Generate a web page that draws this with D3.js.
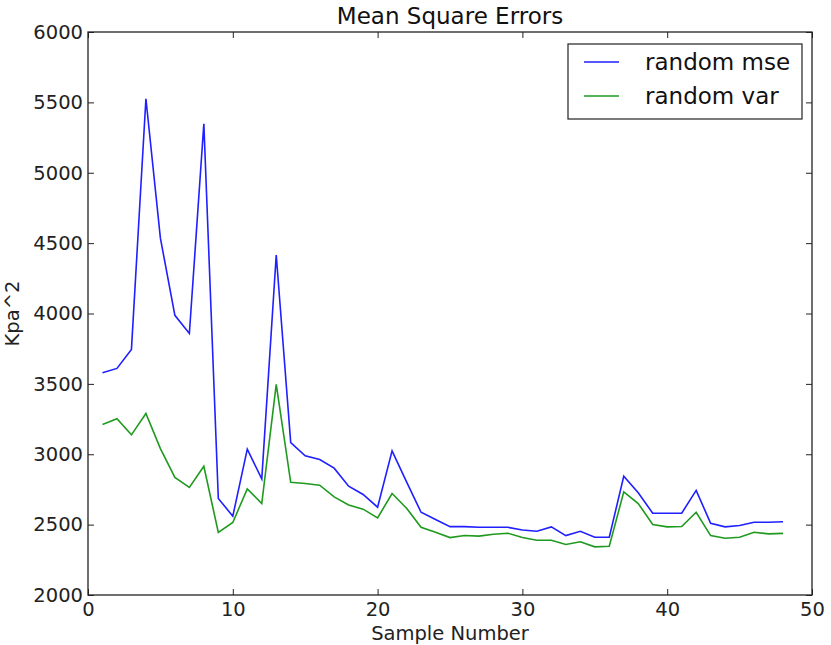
<!DOCTYPE html>
<html><head><meta charset="utf-8">
<script src="https://cdn.jsdelivr.net/npm/d3@7/dist/d3.min.js"></script>
<style>body{margin:0;background:#fff}</style>
</head><body>
<script>
const samples = d3.range(1, 49);
const mseValues = [3579,3610,3745,5526,4535,3987,3858,5348,2686,2560,3036,2825,4416,3083,2989,2963,2901,2773,2714,2624,3024,2804,2588,2536,2486,2486,2481,2481,2481,2462,2453,2484,2422,2453,2410,2410,2844,2726,2581,2581,2581,2743,2510,2484,2494,2517,2517,2520];
const varValues = [3212,3252,3138,3290,3040,2835,2764,2915,2444,2515,2754,2650,3497,2801,2792,2780,2697,2640,2610,2548,2721,2617,2481,2446,2408,2423,2418,2432,2439,2408,2389,2389,2359,2378,2342,2346,2733,2650,2501,2484,2487,2588,2422,2403,2410,2446,2434,2438];
const xTicks = [0,10,20,30,40,50];
const yTicks = [2000,2500,3000,3500,4000,4500,5000,5500,6000];
const seriesNames = ["random mse","random var"];
const colors = ["#1f1fff","#1f9a1f"];

const W = 831, H = 645;
const m = {l:88, r:19, t:32, b:50};
const svg = d3.select("body").append("svg").attr("width",W).attr("height",H)
  .style("font-family","'DejaVu Sans', sans-serif");
const x = d3.scaleLinear().domain([0,50]).range([m.l, W-m.r]);
const y = d3.scaleLinear().domain([2000,6000]).range([H-m.b, m.t]);
const fs = 19.5;

// lines
const line = d3.line().x((d,i)=>x(samples[i])).y(d=>y(d));
[mseValues, varValues].forEach((vals,k)=>{
  svg.append("path").datum(vals).attr("d",line).attr("fill","none")
    .attr("stroke",colors[k]).attr("stroke-width",1.6).attr("stroke-linejoin","miter");
});

// frame
svg.append("rect").attr("x",x(0)).attr("y",y(6000)).attr("width",x(50)-x(0)).attr("height",y(2000)-y(6000))
  .attr("fill","none").attr("stroke","#222").attr("stroke-width",1.3);

// axes with inward ticks
const gx = svg.append("g").attr("transform",`translate(0,${y(2000)})`)
  .call(d3.axisBottom(x).tickValues(xTicks).tickSize(-6).tickPadding(7).tickFormat(d3.format("d")));
const gxt = svg.append("g").attr("transform",`translate(0,${y(6000)})`)
  .call(d3.axisTop(x).tickValues(xTicks).tickSize(-6).tickFormat(""));
const gy = svg.append("g").attr("transform",`translate(${x(0)},0)`)
  .call(d3.axisLeft(y).tickValues(yTicks).tickSize(-6).tickPadding(5).tickFormat(d3.format("d")));
const gyr = svg.append("g").attr("transform",`translate(${x(50)},0)`)
  .call(d3.axisRight(y).tickValues(yTicks).tickSize(-6).tickFormat(""));
[gx,gxt,gy,gyr].forEach(g=>{
  g.select(".domain").remove();
  g.selectAll("line").attr("stroke","#222").attr("stroke-width",1);
  g.selectAll("text").attr("fill","#222").style("font-size",fs+"px").style("font-family","'DejaVu Sans', sans-serif");
});

// titles
svg.append("text").attr("x",(x(0)+x(50))/2).attr("y",24).attr("text-anchor","middle")
  .style("font-size","23px").attr("fill","#111").text("Mean Square Errors");
svg.append("text").attr("x",(x(0)+x(50))/2).attr("y",640).attr("text-anchor","middle")
  .style("font-size",fs+"px").attr("fill","#222").text("Sample Number");
svg.append("text").attr("transform",`translate(19,${(y(2000)+y(6000))/2}) rotate(-90)`)
  .attr("text-anchor","middle").style("font-size",fs+"px").attr("fill","#222").text("Kpa^2");

// legend
const lg = svg.append("g");
lg.append("rect").attr("x",568).attr("y",44).attr("width",234).attr("height",75)
  .attr("fill","#fff").attr("stroke","#222").attr("stroke-width",1.2);
seriesNames.forEach((n,i)=>{
  const yy = 62 + i*34;
  lg.append("line").attr("x1",584).attr("x2",619).attr("y1",yy).attr("y2",yy)
    .attr("stroke",colors[i]).attr("stroke-width",1.6);
  lg.append("text").attr("x",645).attr("y",yy+8).style("font-size","23px").attr("fill","#111").text(n);
});
</script>
</body></html>
